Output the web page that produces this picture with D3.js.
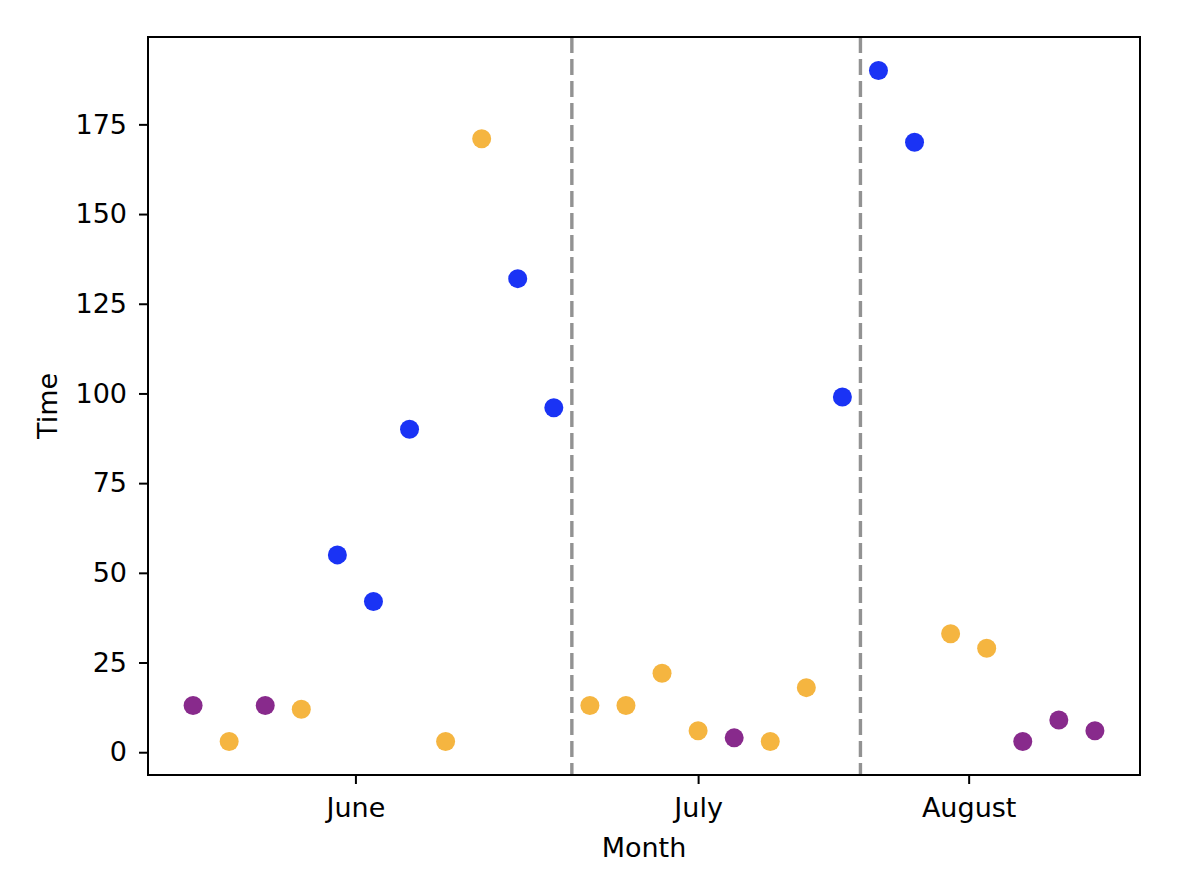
<!DOCTYPE html>
<html><head><meta charset="utf-8">
<script src="https://cdn.jsdelivr.net/npm/d3@7"></script>
<style>body{margin:0;background:#fff;} svg{display:block;font-family:"DejaVu Sans",sans-serif;}</style>
</head><body>
<svg id="c" width="1202" height="878"></svg>
<script>
const times = [13,3,13,12,55,42,90,3,171,132,96,13,13,22,6,4,3,18,99,190,170,33,29,3,9,6];
const groups = ["p","o","p","o","b","b","b","o","o","b","b","o","o","o","o","p","o","o","b","b","b","o","o","p","p","p"];
const monthLabels = ["June","July","August"];
const monthTickPos = [4.5,14,21.5];
const separators = [10.5,18.5];
const yTicks = [0,25,50,75,100,125,150,175];
const colorMap = {p:"#882a8c", o:"#f5b540", b:"#1a33f5"};

const svg = d3.select("#c");
const L=148,R=1140,T=37,B=775;
const n = times.length;
const x = d3.scaleLinear().domain([-1.25, n-1+1.25]).range([L,R]);
const ymin=d3.min(times), ymax=d3.max(times), pad=(ymax-ymin)*0.05;
const y = d3.scaleLinear().domain([ymin-pad, ymax+pad]).range([B,T]);

const fs = 27;
// vlines
svg.selectAll("line.sep").data(separators).join("line")
  .attr("x1",d=>x(d)).attr("x2",d=>x(d)).attr("y1",T).attr("y2",B)
  .attr("stroke","#929292").attr("stroke-width",3.4).attr("stroke-dasharray","16,6");
// points
svg.selectAll("circle").data(times).join("circle")
  .attr("cx",(d,i)=>x(i)).attr("cy",d=>y(d)).attr("r",9.5)
  .attr("fill",(d,i)=>colorMap[groups[i]]);
// frame
svg.append("rect").attr("x",L).attr("y",T).attr("width",R-L).attr("height",B-T)
  .attr("fill","none").attr("stroke","#000").attr("stroke-width",2);
// y axis
const ya = svg.append("g").attr("transform",`translate(${L},0)`)
  .call(d3.axisLeft(y).tickValues(yTicks).tickSize(9).tickPadding(12).tickFormat(d3.format("d")));
ya.select(".domain").remove();
ya.selectAll("line").attr("stroke-width",2);
ya.selectAll("text").attr("font-size",fs).attr("font-family","DejaVu Sans").attr("fill","#000");
// x axis
const xa = svg.append("g").attr("transform",`translate(0,${B})`)
  .call(d3.axisBottom(x).tickValues(monthTickPos).tickSize(9).tickPadding(14).tickFormat((d,i)=>monthLabels[i]));
xa.select(".domain").remove();
xa.selectAll("line").attr("stroke-width",2);
xa.selectAll("text").attr("font-size",fs).attr("font-family","DejaVu Sans").attr("fill","#000");
// labels
svg.append("text").attr("x",(L+R)/2).attr("y",857).attr("text-anchor","middle")
  .attr("font-size",fs).text("Month");
svg.append("text").attr("transform",`translate(57,${(T+B)/2}) rotate(-90)`).attr("text-anchor","middle")
  .attr("font-size",fs).text("Time");
</script>
</body></html>
